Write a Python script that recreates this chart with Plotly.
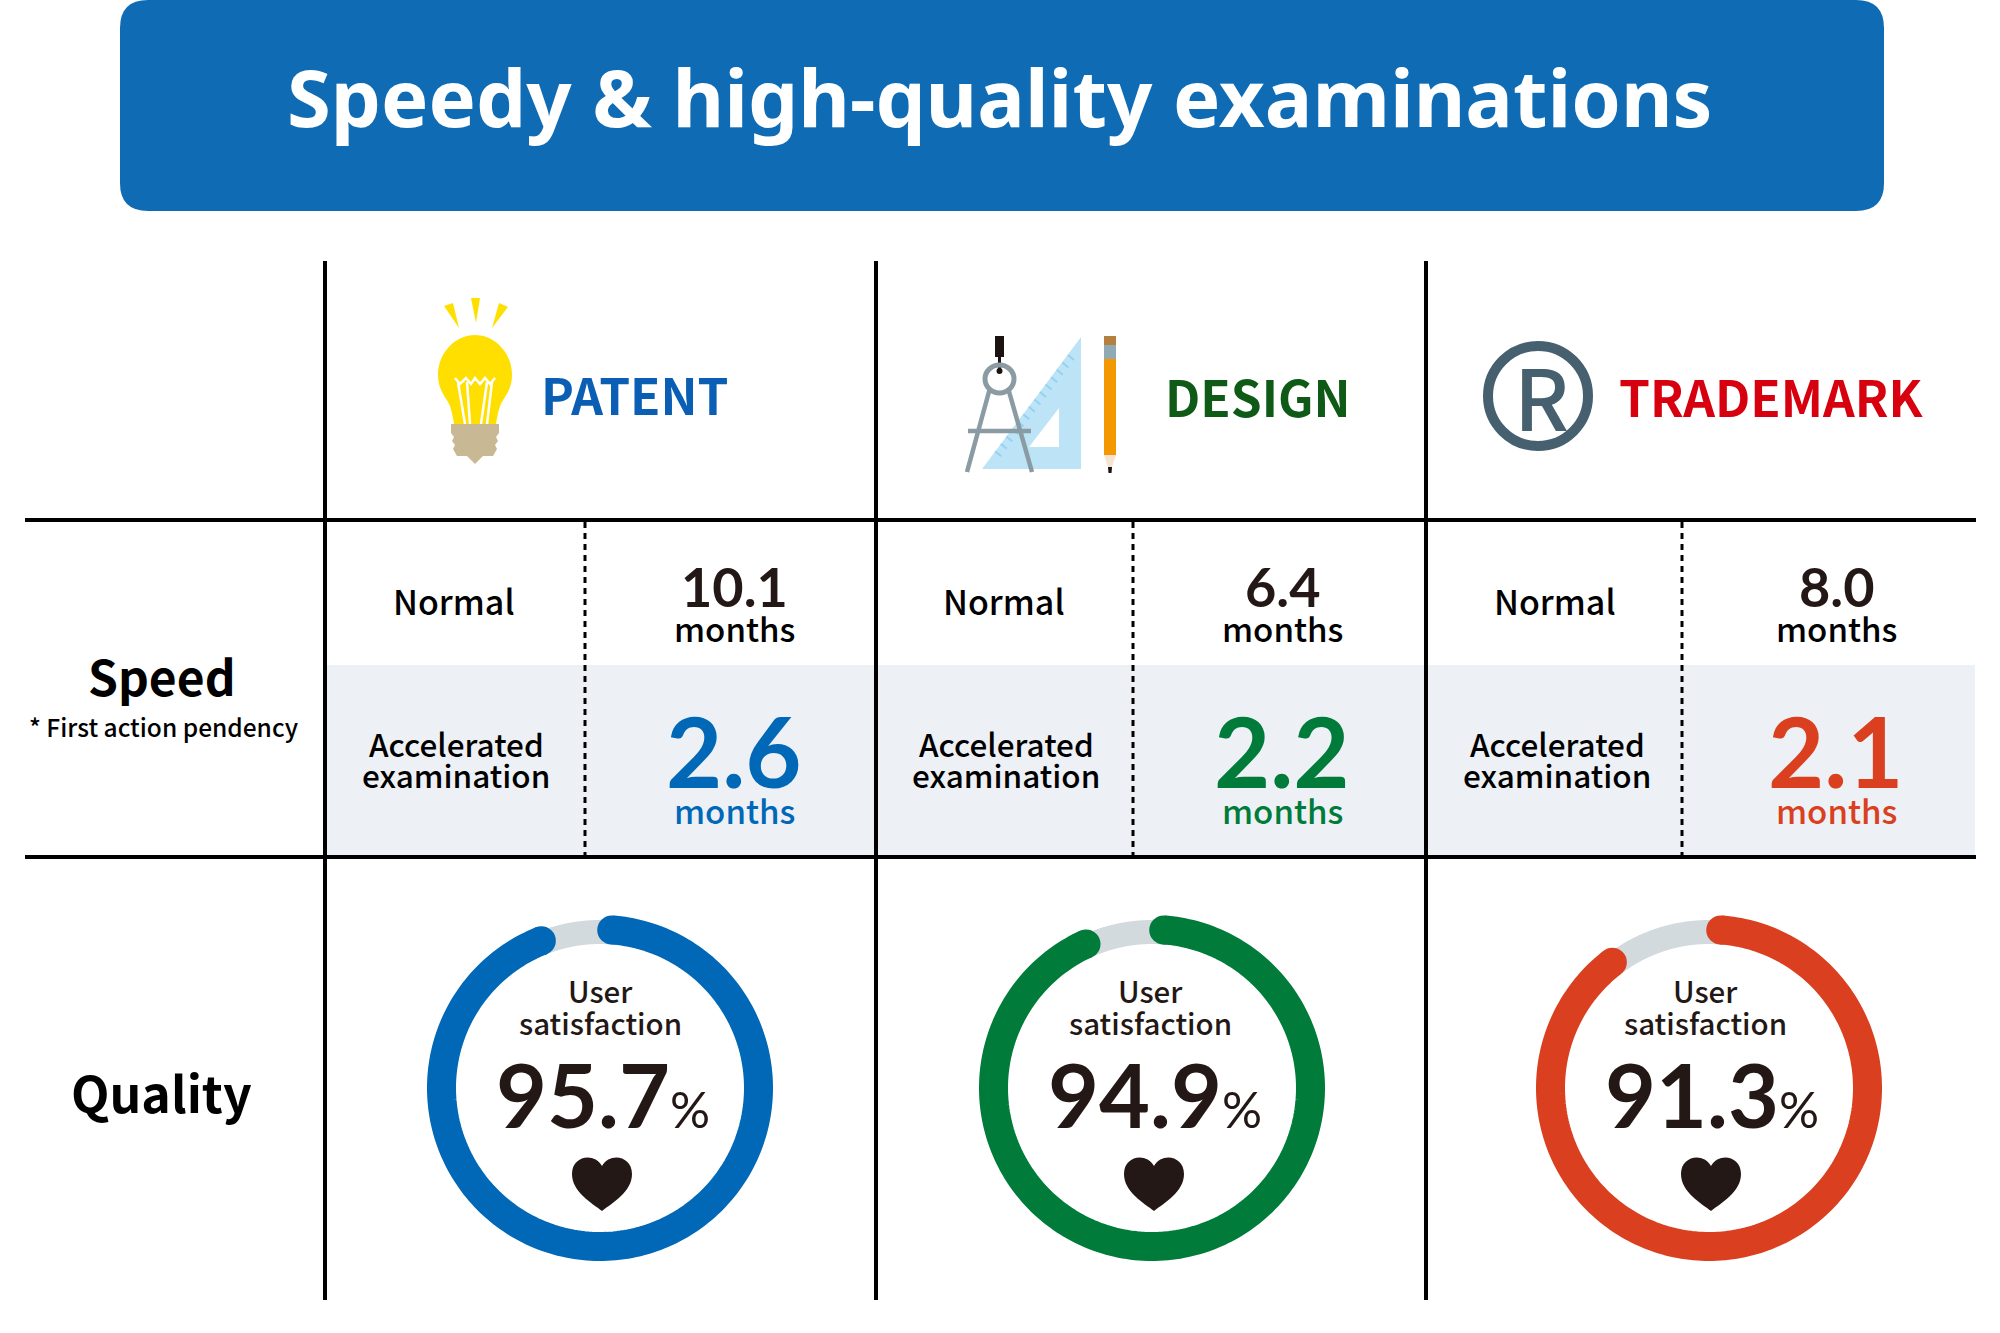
import numpy as np
import plotly.graph_objects as go

# data
title = "Speedy & high-quality examinations"
categories = ["PATENT", "DESIGN", "TRADEMARK"]
normal_months = ["10.1", "6.4", "8.0"]
accelerated_months = ["2.6", "2.2", "2.1"]
satisfaction = [95.7, 94.9, 91.3]

row_speed = "Speed"
row_speed_note = "* First action pendency"
row_quality = "Quality"
label_normal = "Normal"
label_accelerated = ["Accelerated", "examination"]
label_months = "months"
label_user = ["User", "satisfaction"]

# look of each column
label_colors = ["#0a5fb4", "#0f5a16", "#d7000f"]
accent_colors = ["#0068b7", "#007b3a", "#da4020"]
ring_colors = ["#0068b7", "#007b3a", "#da4020"]
GREY_ARC = "#d3dade"
BLUE_HEAD = "#0f6cb4"
SHADE = "#edf1f5"
INK = "#000000"
DARK = "#231815"

CJK = "Noto Sans CJK JP"
NUM = "Lato"

col_left = [325, 876, 1426]
col_dash = [585, 1133, 1682]
col_a = [456, 1006, 1557]
col_b = [734, 1282, 1836]
ring_x = [600, 1152, 1709]
ring_label_x = [600, 1150, 1705]
ring_y = 1088
R_MID = 158.5
R_GREY = 156
W_RING = 29
W_GREY = 24

fig = go.Figure()
shapes = []
notes = []


def text(x, y, s, size, color=INK, family=CJK, weight=400):
    notes.append(dict(x=x, y=y, text=s, showarrow=False, xanchor="center", yanchor="middle",
                      font=dict(family=family, size=size, color=color, weight=weight)))


def line(x0, y0, x1, y1, color=INK, width=4, dash="solid"):
    shapes.append(dict(type="line", x0=x0, y0=y0, x1=x1, y1=y1, line=dict(color=color, width=width, dash=dash)))


def path(d, fill=None, color=None, width=0):
    shapes.append(dict(type="path", path=d, fillcolor=fill or "rgba(0,0,0,0)",
                       line=dict(color=color or "rgba(0,0,0,0)", width=width)))


def arc(r, a0, a1):
    # angles clockwise from 12 o'clock, degrees
    t = np.radians(np.linspace(a0, a1, 240))
    return r * np.sin(t), -r * np.cos(t)


# header box
path("M148,0 H1856 Q1884,0 1884,28 V183 Q1884,211 1856,211 H148 Q120,211 120,183 V28 Q120,0 148,0 Z", fill=BLUE_HEAD)
text(1000, 96, title, 79.5, "#ffffff", "Noto Sans", 700)

# shaded band, grid
shapes.append(dict(type="rect", x0=327, x1=1975, y0=665, y1=855, fillcolor=SHADE, line=dict(width=0), layer="below"))
for x in col_left:
    line(x, 261, x, 1300)
line(25, 520, 1976, 520)
line(25, 857, 1976, 857)
for x in col_dash:
    line(x, 522, x, 855, width=3, dash="6px,5px")

# bulb
path("M471,298 H480 L476,323 Z", fill="#ffdf00")
path("M444,306 L453,303 L459,328 Z", fill="#ffdf00")
path("M499,303 L508,307 L492,328 Z", fill="#ffdf00")
path("M475,335 C494,335 512,352 512,375 C512,391 503,398 500,406 C498,412 497,418 496,424 "
     "H454 C453,418 452,412 450,406 C447,398 438,391 438,375 C438,352 456,335 475,335 Z", fill="#ffdf00")
path("M455,378 L460,384 L466,378 L471,384 L475,378 L480,384 L485,378 L490,384 L495,378", color="#ffffff", width=2.5)
for a, b in [(458, 465), (467, 470), (487, 481), (492, 487)]:
    line(a, 382, b, 424, "#ffffff", 2.5)
path("M451,424 H499 V433 L496,437 L498,441 L495,445 L497,449 L493,456 H483 L475,464 L467,456 H457 L453,449 "
     "L455,445 L452,441 L454,437 L451,433 Z", fill="#c8b994")

# set square, compasses, pencil
path("M1081,337 V469 H982 Z M1059,408 L1029,447 H1059 Z", fill="#bde3f7")
for i in range(14):
    x0 = 1068 - i * 5.6
    y0 = 355 + i * 7.4
    line(x0, y0, x0 + 6, y0 + 5, "#93d3f2", 2)
shapes.append(dict(type="rect", x0=995, x1=1004, y0=336, y1=357, fillcolor="#1a1311", line=dict(width=0)))
line(999.5, 357, 999.5, 372, "#1a1311", 3)
shapes.append(dict(type="circle", x0=985, x1=1014, y0=365, y1=393, fillcolor="rgba(0,0,0,0)",
                   line=dict(color="#8a9ba3", width=5)))
shapes.append(dict(type="circle", x0=996.5, x1=1002.5, y0=368, y1=374, fillcolor="#1a1311", line=dict(width=0)))
line(990, 388, 967, 472, "#8a9ba3", 4.5)
line(1008, 388, 1032, 472, "#8a9ba3", 4.5)
line(968, 431, 1031, 431, "#8a9ba3", 4.5)
for y0, y1, c in [(336, 345, "#b5803f"), (345, 359, "#8fa9b5"), (359, 455, "#f39800")]:
    shapes.append(dict(type="rect", x0=1104, x1=1116, y0=y0, y1=y1, fillcolor=c, line=dict(width=0)))
path("M1104,455 H1116 L1112,467 H1108 Z", fill="#f7e3cf")
path("M1108,467 H1112 L1111.5,473 H1108.5 Z", fill="#1a1311")

# registered mark
shapes.append(dict(type="circle", x0=1488, x1=1588, y0=346, y1=446, fillcolor="rgba(0,0,0,0)",
                   line=dict(color="#46606f", width=10)))
text(1541, 394, "R", 84, "#46606f", CJK, 500)

# column labels
text(635, 393, categories[0], 49.5, label_colors[0], CJK, 700)
text(1258, 395, categories[1], 49.5, label_colors[1], CJK, 700)
text(1771, 395, categories[2], 49.5, label_colors[2], CJK, 700)

# row labels
text(162, 675, row_speed, 48, INK, CJK, 700)
text(163, 726, row_speed_note, 24.5, INK, CJK, 500)
text(161, 1091, row_quality, 50, INK, CJK, 700)

for i in range(3):
    # speed rows
    text(col_a[i] - 2, 600, label_normal, 34, INK, CJK, 500)
    text(col_b[i], 586, normal_months[i], 54, DARK, NUM, 700)
    text(col_b[i], 628, label_months, 33, INK, CJK, 500)
    text(col_a[i], 743, label_accelerated[0], 31.5, INK, CJK, 500)
    text(col_a[i], 774, label_accelerated[1], 31.5, INK, CJK, 500)
    text(col_b[i], 750, accelerated_months[i], 97, accent_colors[i], NUM, 700)
    text(col_b[i], 810, label_months, 33, accent_colors[i], CJK, 500)

    # quality ring: gap between the two cap ends is the share not satisfied
    cx = ring_x[i]
    cap = np.degrees(W_RING / 2 / R_MID)
    start = -1
    end = start + satisfaction[i] * 3.6
    gx, gy = arc(R_GREY, end - 5, start + 365)
    fig.add_trace(go.Scatter(x=cx + gx, y=ring_y + gy, mode="lines",
                             line=dict(color=GREY_ARC, width=W_GREY, simplify=False),
                             hoverinfo="skip", showlegend=False))
    rx, ry = arc(R_MID, start + cap, end - cap)
    fig.add_trace(go.Scatter(x=cx + rx, y=ring_y + ry, mode="lines",
                             line=dict(color=ring_colors[i], width=W_RING, simplify=False),
                             name=categories[i], showlegend=False))
    fig.add_trace(go.Scatter(x=[cx + rx[0], cx + rx[-1]], y=[ring_y + ry[0], ring_y + ry[-1]], mode="markers",
                             marker=dict(color=ring_colors[i], size=W_RING, line=dict(width=0)),
                             hoverinfo="skip", showlegend=False))

    # ring text
    text(ring_label_x[i], 990, label_user[0], 29.5, DARK, CJK, 500)
    text(ring_label_x[i], 1022, label_user[1], 29.5, DARK, CJK, 500)
    text(cx + 3, 1094, f"{satisfaction[i]}<span style=\"font-size:50px;font-weight:400\">%</span>", 88, DARK, NUM, 700)
    hx, hy = cx + 2, 1184
    path(f"M{hx},{hy+27} C{hx-10},{hy+19} {hx-30},{hy+8} {hx-30},{hy-10} C{hx-30},{hy-28} {hx-8},{hy-32} {hx},{hy-18} "
         f"C{hx+8},{hy-32} {hx+30},{hy-28} {hx+30},{hy-10} C{hx+30},{hy+8} {hx+10},{hy+19} {hx},{hy+27} Z", fill=DARK)

fig.update_layout(
    width=2000,
    height=1333,
    margin=dict(l=0, r=0, t=0, b=0),
    paper_bgcolor="#ffffff",
    plot_bgcolor="#ffffff",
    shapes=shapes,
    annotations=notes,
    xaxis=dict(range=[0, 2000], visible=False, fixedrange=True),
    yaxis=dict(range=[1333, 0], visible=False, fixedrange=True),
)

# the page's default body margin would push the figure 8px down and right
fig.write_html("out.html", config=dict(displayModeBar=False),
               post_script="document.body.style.margin = '0';")
